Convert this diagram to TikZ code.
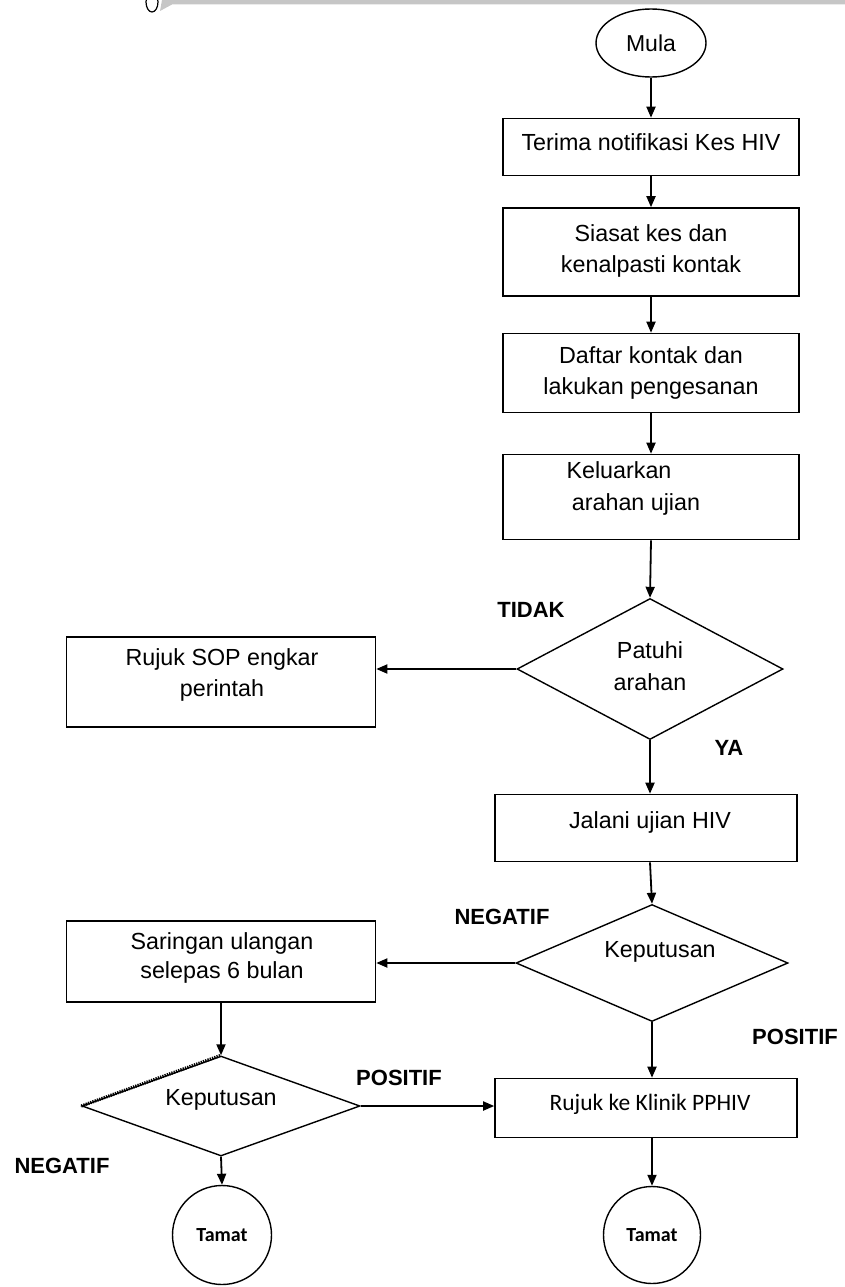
\documentclass[tikz,border=0pt]{standalone}
\usepackage{fontspec}
\setmainfont{Liberation Sans}
\newfontfamily\calfont{Carlito}
\usetikzlibrary{shapes.geometric,arrows.meta}
\begin{document}
\begin{tikzpicture}[x=1pt,y=-1pt,
  box/.style={draw,line width=1.6pt,inner sep=0pt},
  dia/.style={draw,diamond,line width=1.4pt,inner sep=0pt},
  term/.style={draw,line width=1.4pt,inner sep=0pt},
  txt/.style={font=\fontsize{23.3}{31.5}\selectfont,align=center,inner sep=0pt},
  arr/.style={-{Triangle[length=11pt,width=9pt]},line width=1.8pt},
  lab/.style={font=\fontsize{22}{26}\selectfont\bfseries,inner sep=0pt}
]
\useasboundingbox (0,0) rectangle (845,1287);
% top bar
\fill[gray!45] (162,0) -- (845,0) -- (845,4.5) -- (172,4.5) -- (160,11) -- cycle;
\draw[line width=1.2pt] (152,2) ellipse (6 and 10);
% start
\node[term,ellipse,minimum width=110pt,minimum height=68pt,font=\fontsize{23}{26}\selectfont] (mula) at (651,43) {Mula};
% boxes
\node[box,minimum width=296pt,minimum height=57pt] (b1) at (651,147) {};
\node[txt] (t1) at (651,142) {Terima notifikasi Kes HIV};
\node[box,minimum width=296pt,minimum height=88pt] (b2) at (651,252) {};
\node[txt] (t2) at (651,251) {Siasat kes dan\\kenalpasti kontak};
\node[box,minimum width=296pt,minimum height=79pt] (b3) at (651,373) {};
\node[txt] (t3) at (651,373) {Daftar kontak dan\\lakukan pengesanan};
\node[box,minimum width=296pt,minimum height=85pt] (b4) at (651,497) {};
\node[txt,anchor=north] (t4l1) at (619,461) {Keluarkan};
\node[txt,anchor=north] (t4l2) at (636,493) {arahan ujian};
% decision 1
\node[dia,minimum width=266pt,minimum height=141pt] (d1) at (650,669) {};
\node[txt,font=\fontsize{23.3}{32}\selectfont] (td1) at (650,666) {Patuhi\\arahan};
\node[box,minimum width=309pt,minimum height=90pt] (sop) at (221,682) {};
\node[txt] (tsop) at (222,675) {Rujuk SOP engkar\\perintah};
\node[box,minimum width=302pt,minimum height=67pt] (jal) at (646,828) {};
\node[txt] (tjal) at (650,822) {Jalani ujian HIV};
% decision 2
\node[dia,minimum width=272pt,minimum height=117pt] (d2) at (652,963) {};
\node[txt] (td2) at (660,952) {Keputusan};
\node[box,minimum width=309pt,minimum height=81pt] (sar) at (221,961.5) {};
\node[txt,font=\fontsize{23.3}{29}\selectfont] (tsar) at (222,958) {Saringan ulangan\\selepas 6 bulan};
% decision 3
\node[dia,minimum width=278pt,minimum height=100pt] (d3) at (221,1106) {};
\node[txt] (td3) at (221,1100) {Keputusan};
\node[box,minimum width=302pt,minimum height=59pt] (kli) at (646,1108) {};
\node[txt,font=\calfont\fontsize{23.5}{26}\selectfont] (tkli) at (650,1104) {Rujuk ke Klinik PPHIV};
% end
\node[term,circle,minimum size=99pt,font=\calfont\bfseries\fontsize{20}{24}\selectfont] (end1) at (222,1235) {Tamat};
\node[term,circle,minimum size=97pt,font=\calfont\bfseries\fontsize{20}{24}\selectfont] (end2) at (652,1235) {Tamat};
% hatched edge
\draw[line width=3.2pt,dash pattern=on 1.3pt off 1.1pt] (d3.west) -- (d3.north);
% labels
\node[lab] (lt) at (531,610) {TIDAK};
\node[lab] (ly) at (729,748) {YA};
\node[lab] (ln1) at (502,917) {NEGATIF};
\node[lab] (lp1) at (795,1037) {POSITIF};
\node[lab] (lp2) at (399,1078) {POSITIF};
\node[lab] (ln2) at (62,1166) {NEGATIF};
% arrows
\draw[arr] (mula.south) -- (b1.north);
\draw[arr] (b1.south) -- (b2.north);
\draw[arr] (b2.south) -- (b3.north);
\draw[arr] (b3.south) -- (b4.north);
\draw[arr] (b4.south) -- (d1.north);
\draw[arr] (d1.west) -- (d1.west -| sop.east);
\draw[arr] (d1.south) -- (d1.south |- jal.north);
\draw[arr] (d1.south |- jal.south) -- (d2.north);
\draw[arr] (d2.west) -- (d2.west -| sar.east);
\draw[arr] (d2.south) -- (d2.south |- kli.north);
\draw[arr] (d3.north |- sar.south) -- (d3.north);
\draw[arr] (d3.east) -- (d3.east -| kli.west);
\draw[arr] (d3.south) -- (end1.north);
\draw[arr] (end2.north |- kli.south) -- (end2.north);
\end{tikzpicture}
\end{document}
